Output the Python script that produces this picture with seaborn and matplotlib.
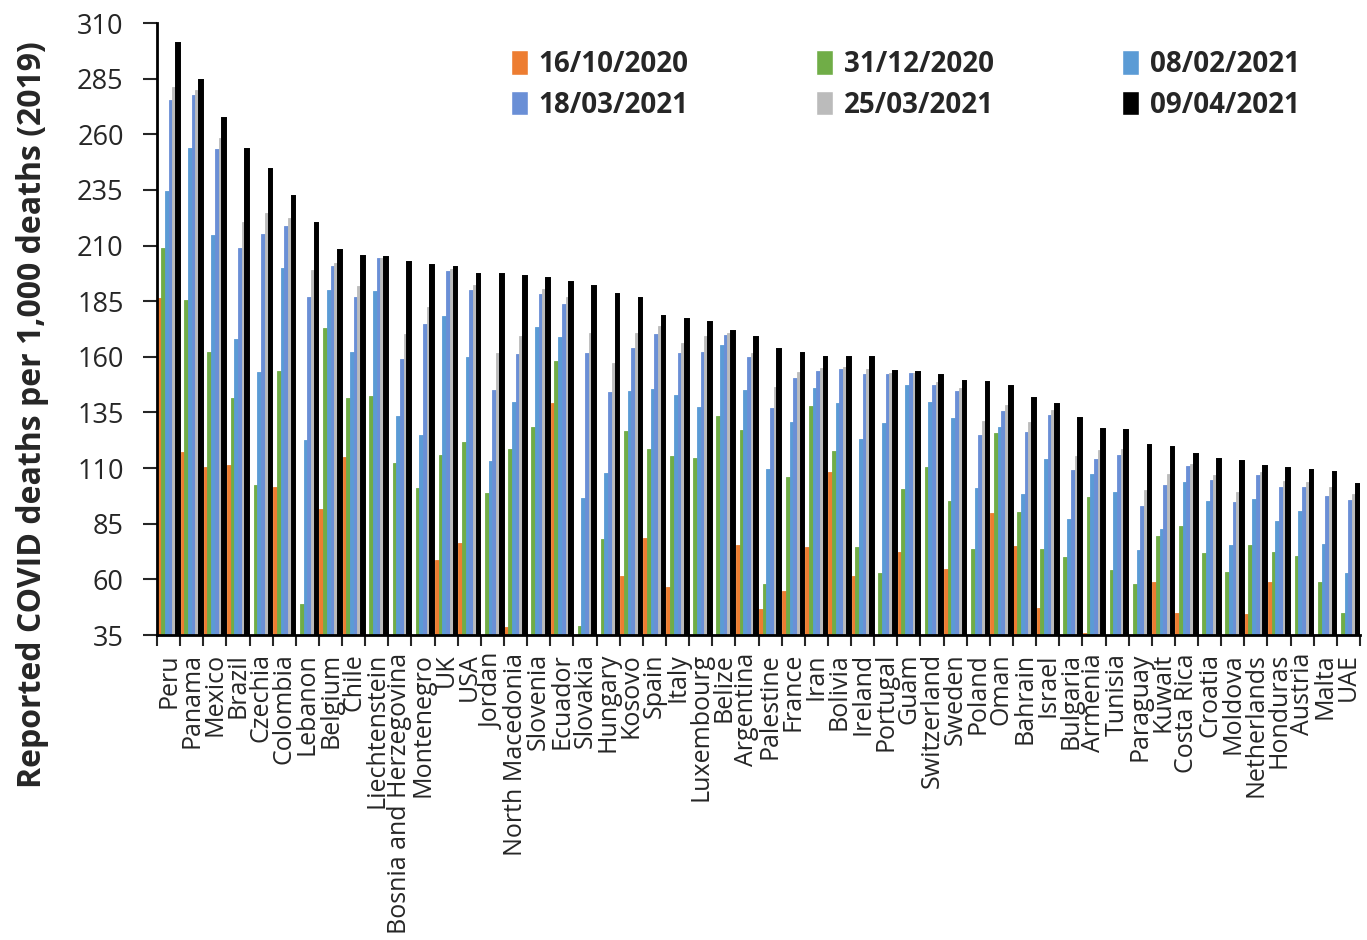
import numpy as np
import pandas as pd
import matplotlib
matplotlib.use("Agg")
import matplotlib.pyplot as plt
import seaborn as sns

countries = ["Peru", "Panama", "Mexico", "Brazil", "Czechia", "Colombia", "Lebanon",
             "Belgium", "Chile", "Liechtenstein", "Bosnia and Herzegovina", "Montenegro",
             "UK", "USA", "Jordan", "North Macedonia", "Slovenia", "Ecuador", "Slovakia",
             "Hungary", "Kosovo", "Spain", "Italy", "Luxembourg", "Belize", "Argentina",
             "Palestine", "France", "Iran", "Bolivia", "Ireland", "Portugal", "Guam",
             "Switzerland", "Sweden", "Poland", "Oman", "Bahrain", "Israel", "Bulgaria",
             "Armenia", "Tunisia", "Paraguay", "Kuwait", "Costa Rica", "Croatia", "Moldova",
             "Netherlands", "Honduras", "Austria", "Malta", "UAE"]

dates = ["16/10/2020", "31/12/2020", "08/02/2021", "18/03/2021", "25/03/2021", "09/04/2021"]

# None = below the 35 axis floor, not visible in the source chart
oct_16 = [186.3, 117.3, 110.5, 111.2, None, 101.6, None, 91.7, 115.0, None, None, None,
          68.5, 76.3, None, 38.7, None, 139.1, None, None, 61.6, 78.8, 56.5, None, None, 75.4,
          46.5, 54.7, 74.5, 108.2, 61.5, None, 72.4, None, 64.6, None, 89.8, 74.9, 47.1, None,
          36.0, None, None, 58.8, 44.8, None, None, 44.4, 58.8, None, None, None]
dec_31 = [208.7, 185.4, 162.1, 141.4, 102.3, 153.7, 49.0, 173.1, 141.4, 142.4, 112.3, 101.2,
          115.9, 121.7, 98.9, 118.6, 128.6, 158.1, 39.1, 78.1, 126.8, 118.6, 115.4, 114.5, 133.4, 126.9,
          57.9, 105.9, 137.7, 117.7, 74.7, 62.8, 100.8, 110.6, 95.3, 73.6, 125.6, 90.4, 73.5, 70.0,
          97.0, 64.0, 57.9, 79.7, 83.9, 71.7, 63.1, 75.5, 72.3, 70.5, 58.9, 45.0]
feb_08 = [234.3, 254.0, 214.9, 168.0, 153.4, 200.0, 122.6, 189.8, 162.3, 189.6, 133.4, 124.9,
          178.4, 159.8, 113.2, 139.6, 173.3, 169.1, 96.7, 107.8, 144.5, 145.4, 142.7, 137.5, 165.2, 145.1,
          109.6, 130.5, 145.9, 139.4, 123.2, 130.2, 147.4, 139.7, 132.5, 100.9, 128.6, 98.3, 114.1, 86.9,
          107.5, 99.2, 73.0, 82.6, 103.6, 95.0, 75.3, 96.1, 86.2, 90.7, 76.0, 62.7]
mar_18 = [275.2, 277.8, 253.6, 208.8, 215.2, 219.0, 186.8, 200.7, 187.0, 204.3, 158.9, 174.6,
          198.5, 189.8, 145.1, 161.3, 188.3, 183.9, 161.9, 144.2, 163.8, 170.1, 161.9, 162.3, 169.9, 159.8,
          136.9, 150.3, 153.5, 154.4, 152.5, 152.2, 152.9, 147.4, 144.7, 124.9, 135.8, 126.2, 133.9, 109.1,
          114.2, 116.0, 92.8, 102.5, 111.1, 104.6, 94.6, 107.0, 101.5, 101.5, 97.6, 95.8]
mar_25 = [281.4, 280.0, 258.3, 220.4, 224.8, 222.2, 199.0, 202.3, 191.9, 204.3, 170.4, 182.2,
          199.3, 192.3, 161.9, 169.2, 190.5, 186.9, 170.9, 157.4, 170.7, 173.7, 166.4, 169.4, 170.7, 161.6,
          146.5, 153.2, 155.0, 155.6, 154.6, 152.6, 152.9, 148.8, 146.2, 131.0, 138.4, 130.6, 136.0, 115.4,
          118.1, 118.6, 100.0, 107.3, 111.8, 106.7, 99.4, 108.2, 104.2, 103.7, 101.6, 98.5]
apr_09 = [300.9, 284.2, 267.3, 253.6, 244.4, 232.3, 220.0, 207.8, 205.5, 204.8, 202.6, 201.1,
          200.5, 197.4, 197.0, 196.5, 195.4, 193.7, 191.6, 188.4, 186.6, 178.5, 177.2, 175.8, 171.5, 168.8,
          163.6, 161.9, 160.1, 160.0, 159.7, 153.8, 153.3, 151.7, 149.2, 148.5, 146.8, 141.7, 139.0, 132.6,
          127.6, 126.9, 120.6, 119.3, 116.5, 114.2, 113.3, 110.8, 110.0, 109.1, 108.4, 103.0]

colors = ["#ED7D31", "#70AD47", "#5B9BD5", "#6A8FD6", "#BBBBBB", "#000000"]

series = [oct_16, dec_31, feb_08, mar_18, mar_25, apr_09]
df = pd.DataFrame({
    "country": np.tile(countries, len(dates)),
    "date": np.repeat(dates, len(countries)),
    "deaths": np.concatenate([np.array(s, dtype=float) for s in series]),
})

sns.set_style("white")
plt.rcParams["font.family"] = ["Open Sans", "DejaVu Sans"]

fig = plt.figure(figsize=(13.67, 9.4), dpi=100)
ax = fig.add_axes([157 / 1367, 1 - 635 / 940, (1360 - 157) / 1367, (635 - 23) / 940])

sns.barplot(data=df, x="country", y="deaths", hue="date", order=countries, hue_order=dates,
            palette=colors, width=0.96, gap=0, saturation=1, errorbar=None, ax=ax)

# fill the thin antialias gaps between neighbouring bars
for cont in ax.containers:
    for bar in cont:
        bar.set_edgecolor(bar.get_facecolor())
        bar.set_linewidth(0.6)
for bar in ax.containers[-1]:
    bar.set_linewidth(1.4)

ax.set_xlim(-0.5, len(countries) - 0.5)
ax.set_ylim(35, 310)
ax.set_yticks(np.arange(35, 311, 25))
ax.tick_params(axis="y", labelsize=19.5, length=10, width=1.5, direction="out", left=True, pad=14)
ax.tick_params(axis="x", which="major", length=0, labelsize=18, rotation=90, pad=13)
ax.set_xticks(np.arange(-0.5, len(countries), 1), minor=True)
ax.tick_params(axis="x", which="minor", length=8, width=1.5, direction="out", bottom=True)
for lab in ax.get_xticklabels():
    lab.set_va("top")
    lab.set_ha("center")

ax.set_xlabel("")
ax.set_ylabel("Reported COVID deaths per 1,000 deaths (2019)", fontsize=23,
              fontweight="bold")
ax.yaxis.set_label_coords(-0.09, 0.36)
for side in ["top", "right"]:
    ax.spines[side].set_visible(False)
for side in ["left", "bottom"]:
    ax.spines[side].set_linewidth(2)
    ax.spines[side].set_color("black")

handles, labels = ax.get_legend_handles_labels()
ax.get_legend().remove()
order = [0, 3, 1, 4, 2, 5]
fig.legend([handles[i] for i in order], [labels[i] for i in order], ncol=3,
           loc="upper left", bbox_to_anchor=(497 / 1367, 1 - 36 / 940), frameon=False,
           prop={"weight": "bold", "size": 20}, handlelength=0.6, handleheight=1.0,
           handletextpad=0.4, columnspacing=4.6, labelspacing=0.42, borderpad=0)

fig.savefig("out.png", dpi=100)
